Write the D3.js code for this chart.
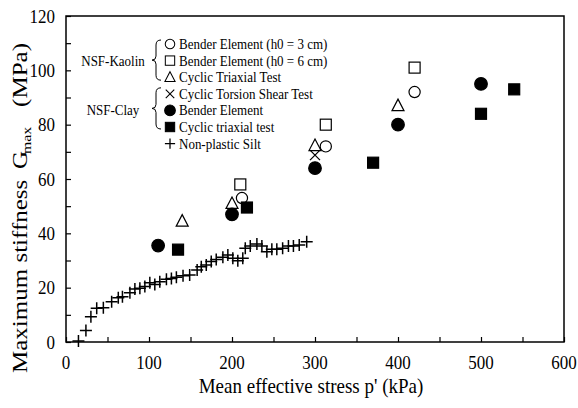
<!DOCTYPE html>
<html>
<head>
<meta charset="utf-8">
<script src="https://cdn.jsdelivr.net/npm/d3@7"></script>
<style>
  body { margin: 0; background: #fff; }
</style>
</head>
<body>
<div id="chart"></div>
<script>
// NSF-Kaolin
var kaolinBE3 = [[212, 53], [313, 72], [420, 92]];
var kaolinBE6 = [[210, 58], [313, 80], [420, 101]];
var kaolinCT = [[140, 44.5], [200, 51], [300, 72.3], [400, 87]];
// NSF-Clay
var clayTorsion = [[300, 68.8]];
var clayBE = [[111, 35.5], [200, 47], [300, 64], [400, 80], [500, 95]];
var clayCT = [[135, 34], [218, 49.5], [370, 66], [500, 84], [540, 93]];
// Non-plastic silt
var silt = [[15, 0.4], [24, 4.2], [30, 9.3], [37, 12.4], [45, 12.6], [55, 14.8], [63, 16.3],
  [68, 16.7], [77, 18.1], [83, 19.5], [89, 19.8], [95, 20.4], [101, 21.8], [107, 21.2],
  [113, 22.2], [121, 23.1], [127, 23.4], [133, 23.8], [141, 24.4], [149, 24.7], [158, 26.5],
  [163, 27.7], [169, 28.3], [175, 29.6], [181, 30.4], [189, 31.2], [195, 32], [201, 30.8],
  [207, 29.9], [213, 30.8], [216, 34.5], [222, 35.3], [230, 36.1], [236, 35.3], [242, 33.2],
  [248, 34.1], [254, 34.1], [261, 34.5], [268, 35.3], [274, 35.3], [281, 35.7], [290, 36.9]];

var xTicks = [0, 100, 200, 300, 400, 500, 600];
var yTicks = [0, 20, 40, 60, 80, 100, 120];

var legendItems = [
  {type: "openCircle", label: "Bender Element (h0 = 3 cm)"},
  {type: "openSquare", label: "Bender Element (h0 = 6 cm)"},
  {type: "openTriangle", label: "Cyclic Triaxial Test"},
  {type: "x", label: "Cyclic Torsion Shear Test"},
  {type: "filledCircle", label: "Bender Element"},
  {type: "filledSquare", label: "Cyclic triaxial test"},
  {type: "plus", label: "Non-plastic Silt"}
];

var margin = {top: 16, right: 14, bottom: 66, left: 66},
    width = 578 - margin.left - margin.right,
    height = 408 - margin.top - margin.bottom;

var svg = d3.select("#chart")
  .append("svg")
  .attr("width", 578)
  .attr("height", 408)
  .attr("font-family", "'Liberation Serif', Tinos, 'Times New Roman', serif");

var g = svg.append("g")
  .attr("transform", "translate(" + margin.left + "," + margin.top + ")");

var x = d3.scaleLinear().domain([0, 600]).range([0, width]);
var y = d3.scaleLinear().domain([0, 120]).range([height, 0]);

// the source figure is a bit stretched vertically, so text gets a small y scale
function txt(sel, tx, ty, size, str, anchor, sy) {
  return sel.append("text")
    .attr("transform", "translate(" + tx + "," + ty + ") scale(1," + (sy || 1.15) + ")")
    .attr("text-anchor", anchor || "start")
    .attr("font-size", size)
    .text(str);
}

// frame
g.append("rect")
  .attr("x", 0).attr("y", 0)
  .attr("width", width).attr("height", height)
  .style("fill", "none")
  .style("stroke", "#000")
  .style("stroke-width", 1.5);

// inward ticks
var xAxis = g.append("g")
  .attr("transform", "translate(0," + height + ")")
  .call(d3.axisBottom(x).tickValues(d3.range(0, 601, 50)).tickSize(-5).tickFormat(""));
var yAxis = g.append("g")
  .call(d3.axisLeft(y).tickValues(d3.range(0, 121, 10)).tickSize(-5).tickFormat(""));
[xAxis, yAxis].forEach(function(a) {
  a.select(".domain").remove();
  a.selectAll("line").style("stroke", "#000").style("stroke-width", 1.2);
});

xTicks.forEach(function(d) {
  txt(g, x(d), height + 27, 17, d, "middle");
});
yTicks.forEach(function(d) {
  txt(g, -11, y(d) + 6.5, 17, d, "end");
});

txt(g, width / 2 - 4, height + 51, 19, "Mean effective stress p' (kPa)", "middle");

// y title, pieces placed along the rotated axis
function ytxt(ty, dx, size, str, anchor) {
  return svg.append("text")
    .attr("transform", "translate(" + (27 + dx) + "," + ty + ") rotate(-90) scale(1.22,1)")
    .attr("text-anchor", anchor || "start")
    .attr("font-size", size)
    .text(str);
}
ytxt(373, 0, 20.5, "Maximum stiffness");
ytxt(169, 0, 20.5, "G");
ytxt(154, 4, 13, "max");
ytxt(43, 0, 20.5, "(MPa)", "end");

// markers
function mark(sel, type, cx, cy) {
  var m = sel.append("g").attr("transform", "translate(" + cx + "," + cy + ")");
  if (type === "openCircle" || type === "filledCircle") {
    m.append("circle").attr("r", type === "filledCircle" ? 6.3 : 5.6)
      .style("fill", type === "filledCircle" ? "#000" : "#fff")
      .style("stroke", "#000").style("stroke-width", 1.2);
  } else if (type === "openSquare" || type === "filledSquare") {
    m.append("rect").attr("x", -5.5).attr("y", -5.5).attr("width", 11).attr("height", 11)
      .style("fill", type === "filledSquare" ? "#000" : "#fff")
      .style("stroke", "#000").style("stroke-width", 1.2);
  } else if (type === "openTriangle") {
    m.append("path").attr("d", "M0,-6.5L6,5L-6,5Z")
      .style("fill", "#fff").style("stroke", "#000").style("stroke-width", 1.2);
  } else if (type === "x") {
    m.append("path").attr("d", "M-5,-5L5,5M-5,5L5,-5")
      .style("fill", "none").style("stroke", "#000").style("stroke-width", 1.3);
  } else if (type === "plus") {
    m.append("path").attr("d", "M-6,0L6,0M0,-6L0,6")
      .style("fill", "none").style("stroke", "#000").style("stroke-width", 1.5);
  }
}

var series = [
  {type: "plus", data: silt},
  {type: "openSquare", data: kaolinBE6},
  {type: "openCircle", data: kaolinBE3},
  {type: "openTriangle", data: kaolinCT},
  {type: "x", data: clayTorsion},
  {type: "filledCircle", data: clayBE},
  {type: "filledSquare", data: clayCT}
];

series.forEach(function(s) {
  s.data.forEach(function(d) {
    mark(g, s.type, x(d[0]), y(d[1]));
  });
});

// legend
var lg = svg.append("g");
var rowY = function(i) { return 44 + i * 16.6; };
legendItems.forEach(function(d, i) {
  var m = lg.append("g").attr("transform", "translate(170," + rowY(i) + ") scale(0.85)");
  mark(m, d.type, 0, 0);
  txt(lg, 179, rowY(i) + 5, 13, d.label);
});

txt(lg, 113, rowY(1) + 5, 13, "NSF-Kaolin", "middle");
txt(lg, 113, rowY(4) + 5, 13, "NSF-Clay", "middle");

function brace(y0, y1) {
  var ym = (y0 + y1) / 2;
  return "M161," + y0 + "Q156," + y0 + " 156," + (y0 + 5) +
    "L156," + (ym - 4) + "Q156," + ym + " 152," + ym +
    "Q156," + ym + " 156," + (ym + 4) +
    "L156," + (y1 - 5) + "Q156," + y1 + " 161," + y1;
}
lg.append("path").attr("d", brace(rowY(0) - 4, rowY(2) + 3))
  .style("fill", "none").style("stroke", "#000").style("stroke-width", 1);
lg.append("path").attr("d", brace(rowY(3) - 6, rowY(5) + 2))
  .style("fill", "none").style("stroke", "#000").style("stroke-width", 1);
</script>
</body>
</html>
